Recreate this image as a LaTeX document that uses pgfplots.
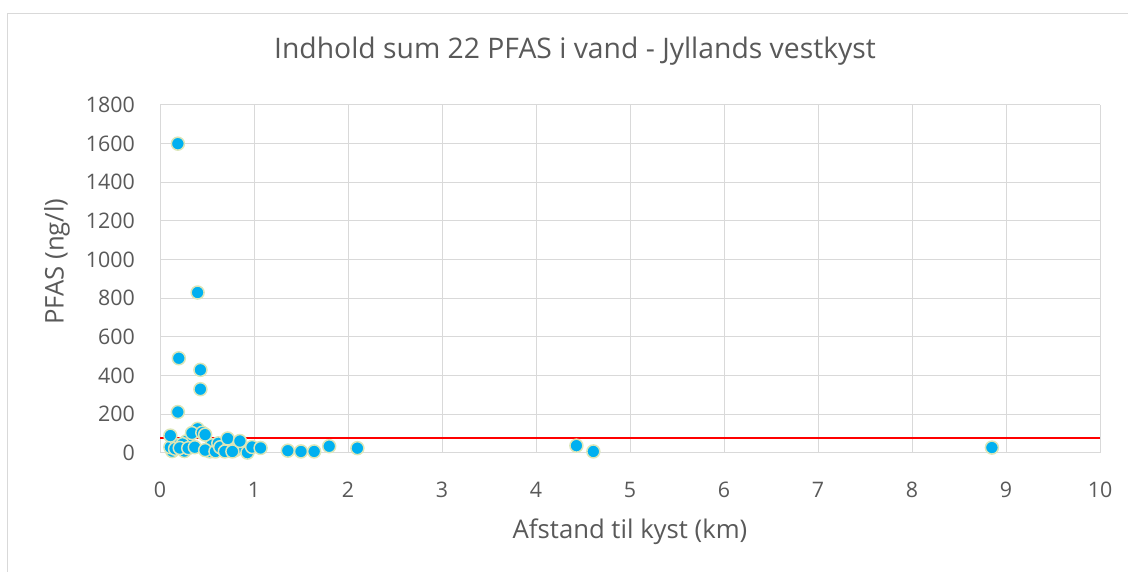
\documentclass[border=0pt]{standalone}
\usepackage{pgfplots}
\pgfplotsset{compat=1.18}
\usepackage{fontspec}
\setmainfont{Open Sans}
\definecolor{ptfill}{HTML}{00B0F0}
\definecolor{ptedge}{HTML}{DCE6B8}
\definecolor{gridc}{HTML}{D9D9D9}
\definecolor{txt}{HTML}{595959}
\begin{document}
\begin{tikzpicture}
\path[use as bounding box] (0pt,0pt) rectangle (1128pt,572pt);
\draw[gridc, line width=1pt] (7.5pt,0pt) -- (7.5pt,558.5pt) -- (1128pt,558.5pt);
\begin{axis}[
  at={(160pt,119pt)}, anchor=south west,
  scale only axis, width=940pt, height=348pt,
  xmin=0, xmax=10, ymin=0, ymax=1800,
  xtick={0,1,...,10}, ytick={0,200,...,1800},
  grid=major, major grid style={gridc, line width=1pt},
  axis line style={gridc, line width=1pt},
  axis x line*=bottom, axis y line*=left,
  tick style={draw=none},
  every tick label/.append style={font=\fontsize{21.4}{24}\selectfont, text=txt, inner sep=0pt},
  /pgf/number format/assume math mode=true,
  /pgf/number format/1000 sep={},
  xticklabel style={anchor=center, yshift=-37pt},
  yticklabel style={anchor=east, xshift=-25pt},
  xlabel={Afstand til kyst (km)},
  ylabel={PFAS (ng/l)},
  xlabel style={font=\fontsize{25.7}{28}\selectfont, text=txt, at={(rel axis cs:0.5,-0.227)}, anchor=center},
  ylabel style={font=\fontsize{25.7}{28}\selectfont, text=txt, at={(rel axis cs:-0.1096,0.55)}, anchor=center},
  title={Indhold sum 22 PFAS i vand - Jyllands vestkyst},
  title style={font=\fontsize{28.3}{31}\selectfont, text=txt, at={(rel axis cs:0.4415,1.138)}, anchor=center},
  clip=false,
]
\addplot[only marks, mark=*, mark size=6.5pt, mark options={fill=ptfill, draw=ptedge, line width=1.5pt}]
coordinates {
(0.13,10) (0.26,10) (0.18,40) (0.53,8) (0.28,60) (0.55,40)
(0.11,30) (0.16,22) (0.24,46) (0.21,26) (0.30,25) (0.37,30)
(0.48,15) (0.59,8) (0.62,50) (0.64,30) (0.71,15) (0.80,15)
(0.88,26) (0.93,2) (0.98,31) (1.07,26) (0.69,8) (0.77,8)
(0.11,90) (0.40,125) (0.34,103) (0.45,105) (0.48,95)
(0.72,75) (0.85,62)
(0.19,212) (0.43,330) (0.43,430) (0.20,490) (0.40,830) (0.19,1600)
(1.36,12) (1.50,8) (1.64,8) (1.80,35) (2.10,25)
(4.43,38) (4.61,8) (8.85,28)
};
\addplot[red, line width=2pt] coordinates {(0,78) (10,78)};
\end{axis}
\end{tikzpicture}
\end{document}
